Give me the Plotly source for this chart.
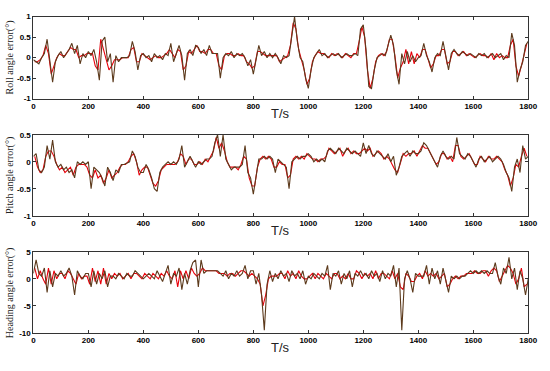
import plotly.graph_objects as go

# ---------------- data ----------------
t_main = list(range(0, 1801, 10))
t_alt = list(range(5, 1800, 10))

roll_est = [
    -0.05, -0.1, -0.15, 0.0, 0.1, 0.45, -0.1, -0.6, -0.1, 0.05,
    0.15, 0.0, 0.1, 0.2, 0.35, 0.1, 0.3, -0.15, 0.1, 0.0,
    0.15, 0.05, 0.2, -0.1, -0.55, 0.4, 0.5, -0.1, 0.1, -0.6,
    0.05, -0.1, 0.0, 0.0, 0.0, 0.05, 0.4, 0.15, -0.3, 0.05,
    0.1, 0.0, 0.05, -0.1, 0.1, 0.0, 0.05, -0.05, 0.1, 0.05,
    0.35, -0.1, 0.1, 0.3, 0.05, -0.55, 0.1, 0.2, 0.05, 0.3,
    0.25, 0.1, 0.2, 0.05, 0.3, 0.1, 0.1, 0.1, -0.5, 0.0,
    0.1, 0.05, 0.15, 0.0, 0.1, 0.05, 0.1, 0.0, -0.2, -0.05,
    -0.4, 0.0, 0.3, 0.05, 0.15, 0.0, 0.1, 0.0, 0.1, 0.0,
    -0.15, 0.05, 0.0, 0.05, 0.6, 1.0, 0.4, 0.0, -0.1, -0.5,
    -0.75, -0.3, 0.0, 0.1, 0.2, 0.05, 0.1, 0.0, 0.05, 0.1,
    0.05, 0.1, 0.0, 0.05, 0.1, 0.05, 0.05, 0.1, 0.05, 0.7,
    0.8, 0.2, -0.7, -0.75, -0.3, 0.0, 0.05, 0.1, 0.05, 0.3,
    0.55, 0.3, -0.3, -0.65, 0.1, -0.15, 0.15, -0.1, 0.05, -0.1,
    0.0, 0.05, 0.35, 0.05, -0.1, -0.35, 0.0, 0.1, 0.05, 0.4,
    0.0, -0.3, 0.1, 0.2, 0.1, 0.05, 0.15, 0.1, 0.05, 0.1,
    0.05, 0.0, 0.1, 0.05, 0.1, 0.0, 0.05, 0.1, 0.0, 0.05,
    0.1, -0.05, 0.05, 0.0, 0.6, 0.3, -0.6, -0.3, -0.1, 0.3,
    0.4,
]
roll_ref = [
    -0.1, -0.1, -0.05, 0.05, 0.3, 0.1, -0.4, -0.2, 0.0, 0.1,
    0.05, 0.05, 0.15, 0.25, 0.2, 0.2, 0.0, 0.05, 0.05, 0.1,
    0.1, 0.1, -0.2, -0.3, 0.45, 0.2, 0.0, -0.3, -0.2, -0.05,
    -0.05, -0.05, 0.0, 0.0, 0.0, 0.2, 0.25, -0.1, -0.1, 0.1,
    0.05, 0.0, -0.05, 0.0, 0.05, 0.0, 0.0, 0.05, 0.1, 0.2,
    0.1, 0.0, 0.2, 0.15, -0.3, -0.2, 0.15, 0.1, 0.2, 0.3,
    0.15, 0.15, 0.1, 0.2, 0.2, 0.1, 0.1, -0.2, -0.3, 0.05,
    0.1, 0.1, 0.05, 0.05, 0.1, 0.05, 0.05, -0.1, -0.15, -0.25,
    -0.2, 0.15, 0.15, 0.1, 0.05, 0.05, 0.05, 0.05, 0.05, -0.1,
    -0.05, 0.0, 0.05, 0.3, 0.85, 0.7, 0.2, -0.05, -0.3, -0.65,
    -0.5, -0.1, 0.05, 0.15, 0.1, 0.1, 0.05, 0.0, 0.1, 0.05,
    0.1, 0.05, 0.0, 0.1, 0.05, 0.0, 0.1, 0.1, 0.4, 0.75,
    0.5, -0.3, -0.75, -0.5, -0.1, 0.05, 0.1, 0.05, 0.15, 0.45,
    0.45, 0.05, -0.5, -0.25, -0.1, 0.2, -0.15, 0.15, -0.15, 0.1,
    0.0, 0.2, 0.2, -0.05, -0.25, -0.15, 0.05, 0.05, 0.2, 0.2,
    -0.15, -0.1, 0.15, 0.15, 0.05, 0.1, 0.15, 0.05, 0.1, 0.05,
    0.0, 0.05, 0.1, 0.05, 0.05, 0.0, 0.1, -0.05, 0.1, 0.0,
    0.05, 0.0, 0.0, 0.3, 0.45, -0.2, -0.45, -0.2, 0.1, 0.35,
]

pitch_est = [
    0.1, 0.15, -0.15, -0.2, -0.1, 0.3, 0.05, 0.4, 0.0, -0.1,
    -0.05, -0.15, -0.1, -0.2, -0.15, -0.3, 0.0, -0.05, 0.0, -0.05,
    0.0, -0.5, -0.1, -0.15, -0.2, -0.3, -0.45, -0.1, -0.2, -0.35,
    -0.15, -0.2, -0.05, -0.05, -0.02, 0.0, 0.2, 0.1, -0.1, -0.2,
    -0.2, -0.05, -0.15, -0.3, -0.5, -0.55, -0.2, -0.1, -0.05, 0.0,
    -0.05, 0.0, -0.05, 0.05, 0.3, -0.1, 0.0, 0.1, 0.0, -0.1,
    0.0, -0.05, 0.0, 0.05, 0.05, 0.1, 0.35, 0.5, 0.1, 0.5,
    0.05, -0.05, -0.15, -0.1, -0.1, -0.1, -0.05, 0.3, -0.2, -0.3,
    -0.6, -0.3, 0.05, 0.05, 0.1, 0.05, 0.1, 0.05, -0.2, 0.05,
    0.0, -0.05, -0.1, -0.5, 0.0, 0.05, 0.1, 0.05, 0.1, 0.1,
    0.15, 0.1, 0.0, 0.05, 0.0, 0.05, 0.0, 0.2, 0.25, 0.2,
    0.15, 0.25, 0.2, 0.15, 0.25, 0.2, 0.15, 0.2, 0.15, 0.1,
    0.35, 0.15, 0.3, 0.15, 0.1, 0.2, 0.15, 0.1, 0.05, 0.15,
    0.0, 0.1, -0.25, -0.1, 0.1, 0.15, 0.2, 0.1, 0.2, 0.15,
    0.15, 0.2, 0.35, 0.3, 0.2, 0.1, 0.0, -0.1, 0.1, 0.2,
    0.1, 0.05, 0.1, 0.05, 0.45, 0.15, 0.1, 0.05, 0.15, 0.1,
    0.0, -0.1, 0.05, 0.1, 0.0, 0.05, 0.1, 0.0, 0.05, 0.1,
    0.05, -0.05, -0.2, -0.3, -0.55, -0.1, 0.05, -0.2, 0.3, 0.05,
    0.1,
]
pitch_ref = [
    0.1, -0.1, -0.2, -0.15, 0.1, 0.2, 0.2, 0.1, -0.05, -0.15,
    -0.1, -0.2, -0.15, -0.1, -0.25, -0.1, -0.05, -0.05, -0.05, -0.1,
    -0.25, -0.3, -0.15, -0.3, -0.25, -0.4, -0.3, -0.15, -0.3, -0.25,
    -0.2, -0.1, -0.05, -0.05, 0.0, 0.1, 0.15, 0.0, -0.25, -0.15,
    -0.1, -0.1, -0.25, -0.4, -0.45, -0.35, -0.15, -0.1, -0.05, -0.05,
    -0.05, -0.05, 0.0, 0.15, 0.1, -0.05, 0.05, 0.05, -0.05, -0.05,
    0.0, -0.05, 0.05, 0.0, 0.1, 0.2, 0.45, 0.25, 0.35, 0.2,
    0.0, -0.1, -0.1, -0.1, -0.15, -0.05, 0.1, 0.05, -0.3, -0.45,
    -0.45, -0.1, 0.05, 0.1, 0.05, 0.1, 0.05, -0.1, -0.1, 0.0,
    -0.05, -0.05, -0.3, -0.25, 0.05, 0.1, 0.05, 0.1, 0.05, 0.15,
    0.1, 0.05, 0.05, 0.0, 0.05, 0.05, 0.1, 0.25, 0.2, 0.15,
    0.2, 0.25, 0.1, 0.2, 0.25, 0.15, 0.2, 0.15, 0.15, 0.2,
    0.25, 0.2, 0.25, 0.1, 0.15, 0.2, 0.15, 0.05, 0.1, 0.05,
    -0.05, -0.15, -0.2, 0.0, 0.15, 0.1, 0.15, 0.15, 0.2, 0.1,
    0.2, 0.3, 0.25, 0.25, 0.15, 0.05, -0.05, 0.0, 0.15, 0.15,
    0.05, 0.1, 0.0, 0.3, 0.3, 0.1, 0.05, 0.1, 0.15, 0.05,
    -0.05, -0.05, 0.1, 0.05, 0.0, 0.1, 0.05, 0.05, 0.1, 0.05,
    0.0, -0.15, -0.25, -0.45, -0.3, -0.05, -0.1, 0.1, 0.25, 0.1,
]

heading_est = [
    1.0, 3.5, 1.0, 0.5, 2.0, -2.5, 1.5, -1.5, 1.0, 0.5,
    1.5, 0.5, 1.0, 2.0, 0.5, -3.0, 1.5, 0.5, 0.0, 1.0,
    1.0, -1.5, 1.5, -1.0, 1.0, 0.0, 1.5, -1.5, 0.5, 0.5,
    0.0, 1.0, 0.5, 0.0, 1.0, 0.5, 0.5, 1.5, 1.0, 0.5,
    0.0, 0.5, 1.0, 0.5, 0.0, 1.5, 0.5, -0.5, 1.0, 2.5,
    -1.0, 1.0, 0.5, 2.0, -2.0, 1.0, -1.0, 1.5, 3.0, 3.5,
    -1.5, 3.5, 1.0, 1.5, 1.5, 1.5, 1.5, 1.5, 1.0, 0.5,
    1.5, 0.0, 1.0, 0.5, 1.5, 0.5, 1.0, 2.5, 0.0, 1.5,
    1.5, -1.0, 1.0, -3.0, -9.5, -1.0, 1.5, -0.5, 1.0, 0.0,
    1.5, 0.5, 1.0, -0.5, 1.5, 0.5, 1.0, 0.0, 1.5, -1.0,
    0.5, 0.0, 1.0, 0.5, 0.0, 1.0, 0.5, 2.5, -2.0, 1.0,
    0.5, 1.5, -1.0, 1.0, 0.0, 1.5, -1.5, 1.0, 0.5, 1.5,
    0.5, 1.0, 0.0, 1.5, 0.5, 1.0, -0.5, 1.5, 0.0, 1.0,
    0.5, 2.5, -1.5, 2.0, -9.5, 0.0, 1.5, 0.0, -2.5, 1.0,
    0.5, 0.5, 0.5, 2.5, -1.0, 2.0, 0.0, 1.5, -1.0, 2.0,
    -0.5, -2.5, 0.5, 0.0, 0.5, 0.0, 0.5, 0.5, 1.0, 1.5,
    1.0, 1.5, 1.0, 1.5, 1.0, 1.5, 1.0, 1.0, 3.0, 0.5,
    -1.0, 2.0, 1.0, 4.0, 0.0, 2.0, -2.0, 1.5, 0.0, -3.0,
    0.0,
]
heading_ref = [
    2.0, 0.0, 1.5, 0.0, -1.0, 2.0, -1.0, 1.5, 0.0, 1.0,
    1.0, 0.0, 1.5, 1.0, 0.0, -1.0, 1.0, 0.0, 0.5, 0.5,
    -1.0, 2.0, -0.5, 1.5, -1.0, 2.0, -1.0, 1.0, 0.0, 1.0,
    0.5, 1.0, 0.0, 0.5, 1.0, 0.0, 1.0, 1.0, 0.5, 0.0,
    1.0, 0.5, 0.0, 1.0, 0.5, 0.0, 1.0, 0.5, 1.5, 0.5,
    0.0, 1.5, -1.5, 1.5, 0.0, 1.5, 0.0, 2.0, 1.0, 0.5,
    1.0, 2.0, 1.5, 1.5, 1.5, 1.5, 1.5, 1.0, 1.0, 1.0,
    0.5, 1.0, 1.0, 0.5, 1.0, 1.5, 1.5, 1.0, 0.5, 1.0,
    0.5, 0.0, -1.0, -5.0, -3.0, 0.0, 0.5, 0.5, 0.5, 1.0,
    1.0, 0.0, 1.5, 0.5, 1.0, 0.0, 1.5, 0.5, 0.0, 0.0,
    0.5, 1.0, 0.0, 1.0, 0.5, 0.0, 1.0, 0.5, 0.0, 1.0,
    1.0, 0.0, 0.5, 0.0, 1.0, 0.0, 0.0, 1.5, 1.0, 0.0,
    1.0, 0.5, 1.0, 0.0, 1.5, 0.0, 1.0, 1.0, 0.5, 0.0,
    1.5, 0.0, 1.0, -1.5, -2.0, 1.0, 0.5, -0.5, -0.5, 0.5,
    1.0, 0.0, 1.5, 0.5, 1.0, 0.5, 1.0, 0.0, 0.5, 1.0,
    -1.5, -1.0, 0.0, 0.5, 0.0, 0.5, 0.5, 1.0, 1.0, 1.0,
    1.5, 1.0, 1.0, 1.5, 1.5, 0.5, 1.5, 2.0, 1.5, -0.5,
    0.5, 1.5, 2.5, 2.0, 1.0, -1.0, 0.0, 2.0, -1.5, -1.0,
]

x_ticks = [0, 200, 400, 600, 800, 1000, 1200, 1400, 1600, 1800]
roll_ticks = [-1, -0.5, 0, 0.5, 1]
pitch_ticks = [-1, -0.5, 0, 0.5]
heading_ticks = [-10, -5, 0, 5]
y_titles = ["Roll angle error(°)", "Pitch angle error(°)", "Heading angle error(°)"]
x_title = "T/s"

# ---------------- figure ----------------
W, H = 550, 371
x0, x1 = 32 / W, 537 / W
panels = [  # (top px, bottom px)
    (13, 97),
    (134, 217),
    (254, 337),
]
ranges = [[-1, 1], [-1, 0.5], [-10, 5]]
tickvals = [roll_ticks, pitch_ticks, heading_ticks]
series = [(roll_ref, roll_est), (pitch_ref, pitch_est), (heading_ref, heading_est)]

RED = "#e8000b"
BROWN = "#5c3a1c"

fig = go.Figure()
layout = dict(
    width=W, height=H, margin=dict(l=0, r=0, t=0, b=0),
    paper_bgcolor="white", plot_bgcolor="white", showlegend=False,
)
annotations = []
for i, ((top, bot), rng, tv, (ref, est)) in enumerate(zip(panels, ranges, tickvals, series)):
    n = "" if i == 0 else str(i + 1)
    fig.add_trace(go.Scatter(x=t_alt, y=ref, mode="lines", line=dict(color=RED, width=1.1),
                             xaxis="x" + n, yaxis="y" + n, hoverinfo="skip"))
    fig.add_trace(go.Scatter(x=t_main, y=est, mode="lines", line=dict(color=BROWN, width=1.1),
                             xaxis="x" + n, yaxis="y" + n, hoverinfo="skip"))
    ydom = [(H - bot) / H, (H - top) / H]
    axis_common = dict(showline=True, linecolor="#333", linewidth=1, mirror="ticks",
                       ticks="inside", ticklen=3, tickcolor="#333", showgrid=False,
                       zeroline=False,
                       tickfont=dict(family="Liberation Sans", size=8, color="black", weight="bold"))
    layout["xaxis" + n] = dict(domain=[x0, x1], range=[0, 1800], tickvals=x_ticks,
                               anchor="y" + n, **axis_common)
    layout["yaxis" + n] = dict(domain=ydom, range=rng, tickvals=tv,
                               ticktext=[("%g" % v) for v in tv],
                               anchor="x" + n, **axis_common)
    annotations.append(dict(text=x_title, x=(x0 + x1) / 2, y=(H - bot - 15) / H,
                            xref="paper", yref="paper", xanchor="center", yanchor="middle",
                            showarrow=False,
                            font=dict(family="Liberation Sans", size=13, color="#222")))
    annotations.append(dict(text=y_titles[i], x=8 / W, y=(H - (top + bot) / 2) / H,
                            xref="paper", yref="paper", xanchor="center", yanchor="middle",
                            textangle=-90, showarrow=False,
                            font=dict(family="Liberation Serif", size=10, color="#222")))
layout["annotations"] = annotations
fig.update_layout(**layout)
fig.write_html(
    "out.html",
    config={"displayModeBar": False},
    post_script=(
        "document.documentElement.style.overflow='hidden';"
        "document.body.style.overflow='hidden';"
        "document.body.style.margin='0';document.body.style.padding='0';"
    ),
)
